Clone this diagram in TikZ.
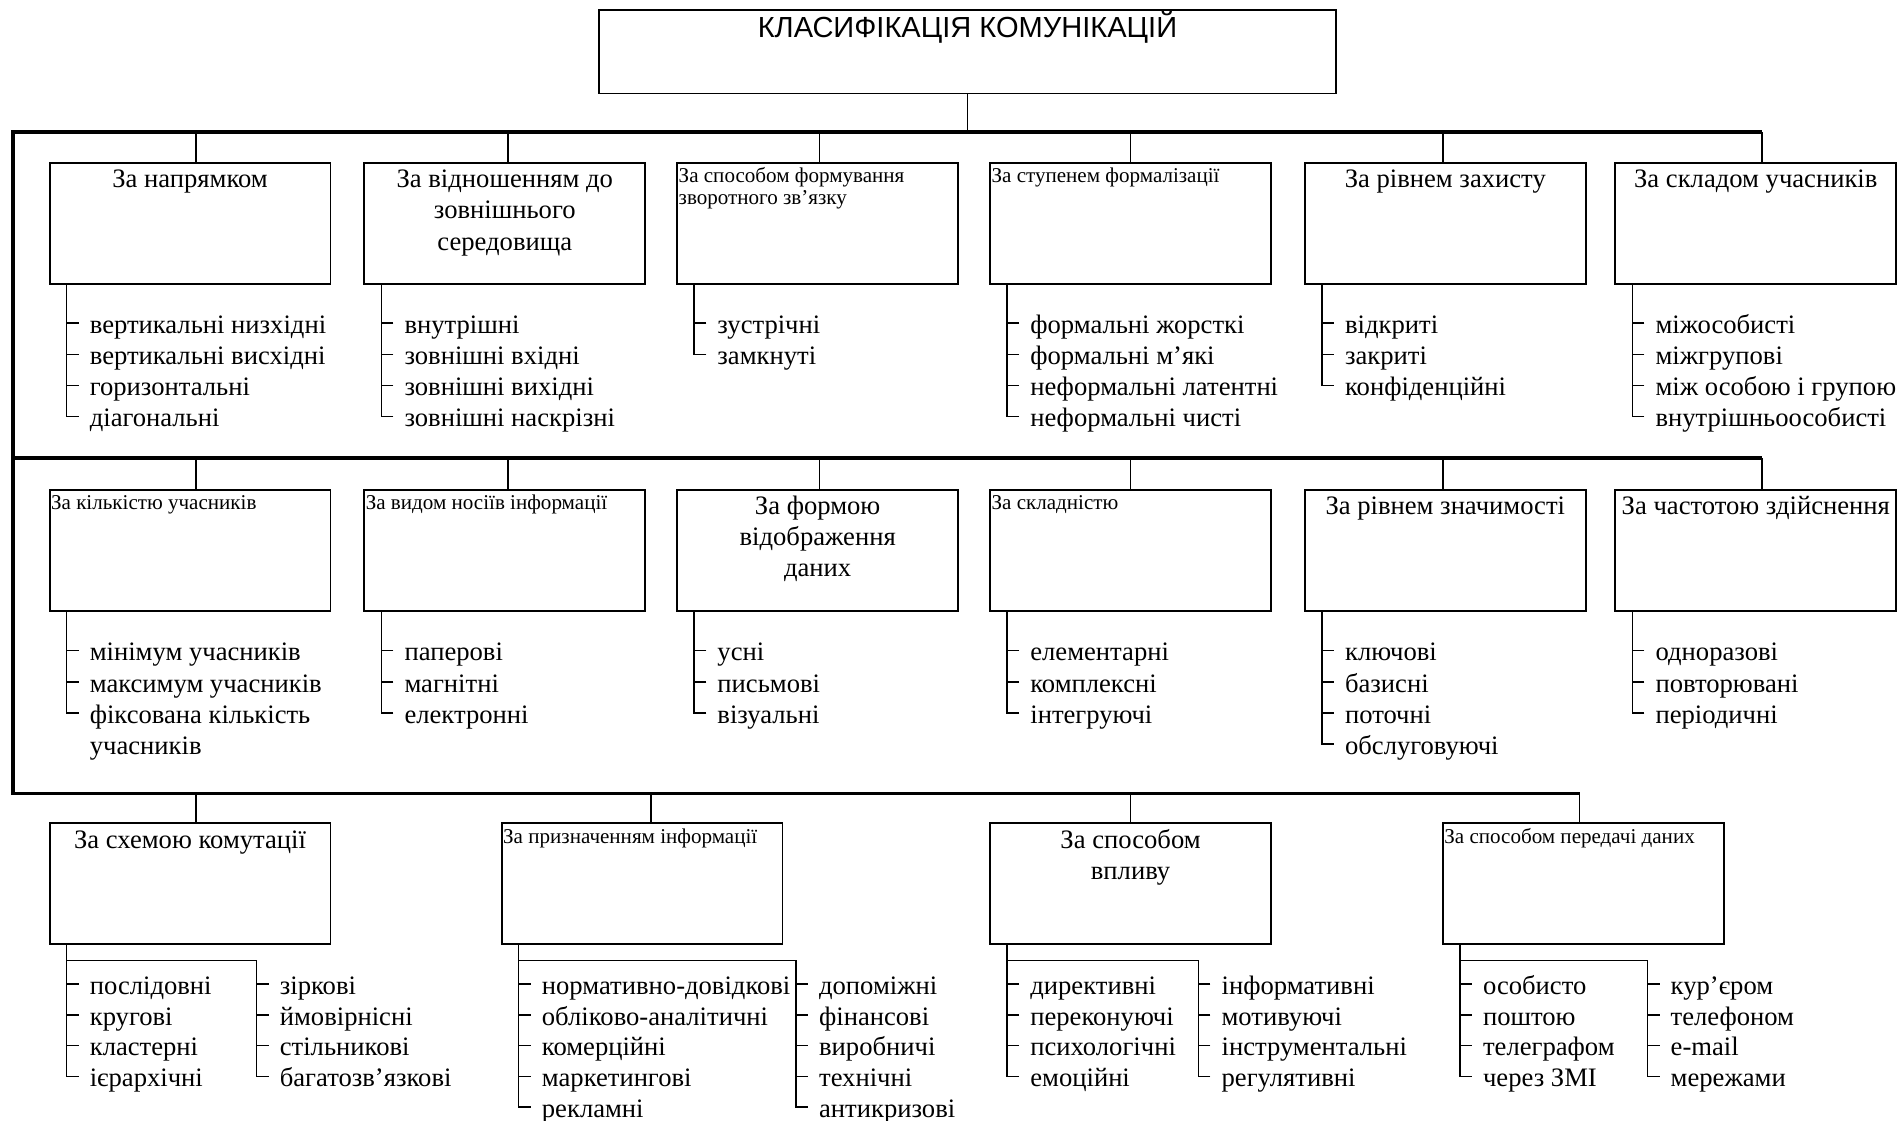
\documentclass[tikz,border=0pt]{standalone}
\usepackage{fontspec}
\setmainfont{Liberation Serif}
\newfontfamily\titlefont{Liberation Sans}
\newcommand\itcol[5]{%
  \foreach \t [count=\k] in {#5}{%
    \node[itm] (#1-\k) at ({#2+19},{#3+8.5+#4*(\k-1)}) {\t};
    \draw[ln] ([xshift=-9pt,yshift=8.5pt]#1-\k.base west) -- ++(-10pt,0);
  }}
\begin{document}
\begin{tikzpicture}[x=1pt,y=-1pt,
  box/.style={draw,line width=1.5pt,minimum width=232pt,minimum height=100pt,inner sep=0pt,outer sep=0pt,anchor=north west},
  ln/.style={line width=1.3pt},
  bus/.style={line width=3pt,line join=miter},
  itm/.style={font=\fontsize{22}{25.7}\selectfont,inner sep=0pt,anchor=base west},
  hb/.style={font=\fontsize{22}{25.7}\selectfont,inner sep=0pt,anchor=base},
  hs/.style={font=\fontsize{17.4}{17.9}\selectfont,inner sep=0pt,anchor=base west},
]
\fill[white] (0,0) rectangle (1568,926);
\useasboundingbox (0,0) rectangle (1568,926);

% title
\node[box,minimum width=609pt,minimum height=69pt] (title) at (494.7,8.3) {};
\node[font=\titlefont\fontsize{24}{28}\selectfont,inner sep=0pt,anchor=base] (titletext) at ([yshift=-23pt]title.north) {КЛАСИФІКАЦІЯ КОМУНІКАЦІЙ};

% buses
\coordinate (bus1L) at (11,109);   \coordinate (bus1R) at (1456,109);
\coordinate (bus2L) at (11,378.6); \coordinate (bus2R) at (1456,378.6);
\coordinate (bus3L) at (11,655.4); \coordinate (bus3R) at (1305,655.4);
\draw[bus] (bus1R) -- (bus1L) -- (bus3L) -- (bus3R);
\draw[bus] (bus2L) -- (bus2R);
\draw[ln] (title.south) -- (title.south |- bus1L);

% ---------- row 1 ----------
\node[box] (b11) at (41,134.5) {};
\node[box] (b12) at (301,134.5) {};
\node[box] (b13) at (559.5,134.5) {};
\node[box] (b14) at (818,134.5) {};
\node[box] (b15) at (1078,134.5) {};
\node[box] (b16) at (1334.5,134.5) {};
\foreach \b/\d in {b11/5,b12/2.5,b13/1.5,b14/0,b15/-2,b16/5}
  \draw[ln] ([xshift=\d pt]\b.north) -- ([xshift=\d pt]\b.north |- bus1L);

\node[hb] (h11) at ([yshift=-20.7pt]b11.north) {За напрямком};
\node[hb] (h12) at ([yshift=-20.7pt]b12.north) {За відношенням до};
\node[hb] (h12b) at ([yshift=-46.4pt]b12.north) {зовнішнього};
\node[hb] (h12c) at ([yshift=-72.1pt]b12.north) {середовища};
\node[hs] (h13) at ([xshift=1pt,yshift=-16.6pt]b13.north west) {За способом формування};
\node[hs] (h13b) at ([xshift=1pt,yshift=-34.5pt]b13.north west) {зворотного зв’язку};
\node[hs] (h14) at ([xshift=1pt,yshift=-16.6pt]b14.north west) {За ступенем формалізації};
\node[hb] (h15) at ([yshift=-20.7pt]b15.north) {За рівнем захисту};
\node[hb] (h16) at ([yshift=-20.7pt]b16.north) {За складом учасників};

\itcol{i11}{55}{267}{25.7}{вертикальні низхідні,вертикальні висхідні,горизонтальні,діагональні}
\itcol{i12}{315}{267}{25.7}{внутрішні,зовнішні вхідні,зовнішні вихідні,зовнішні наскрізні}
\itcol{i13}{573.5}{267}{25.7}{зустрічні,замкнуті}
\itcol{i14}{832}{267}{25.7}{формальні жорсткі,формальні м’які,неформальні латентні,неформальні чисті}
\itcol{i15}{1092}{267}{25.7}{відкриті,закриті,конфіденційні}
\itcol{i16}{1348.5}{267}{25.7}{міжособисті,міжгрупові,між особою і групою,внутрішньоособисті}
\draw[ln] ([xshift=14pt]b11.south west) |- ([xshift=-9pt,yshift=8.5pt]i11-4.base west);
\draw[ln] ([xshift=14pt]b12.south west) |- ([xshift=-9pt,yshift=8.5pt]i12-4.base west);
\draw[ln] ([xshift=14pt]b13.south west) |- ([xshift=-9pt,yshift=8.5pt]i13-2.base west);
\draw[ln] ([xshift=14pt]b14.south west) |- ([xshift=-9pt,yshift=8.5pt]i14-4.base west);
\draw[ln] ([xshift=14pt]b15.south west) |- ([xshift=-9pt,yshift=8.5pt]i15-3.base west);
\draw[ln] ([xshift=14pt]b16.south west) |- ([xshift=-9pt,yshift=8.5pt]i16-4.base west);

% ---------- row 2 ----------
\node[box] (b21) at (41,404.5) {};
\node[box] (b22) at (301,404.5) {};
\node[box] (b23) at (559.5,404.5) {};
\node[box] (b24) at (818,404.5) {};
\node[box] (b25) at (1078,404.5) {};
\node[box] (b26) at (1334.5,404.5) {};
\foreach \b/\d in {b21/5,b22/2.5,b23/1.5,b24/0,b25/-2,b26/5}
  \draw[ln] ([xshift=\d pt]\b.north) -- ([xshift=\d pt]\b.north |- bus2L);

\node[hs] (h21) at ([xshift=1pt,yshift=-16.6pt]b21.north west) {За кількістю учасників};
\node[hs] (h22) at ([xshift=1pt,yshift=-16.6pt]b22.north west) {За видом носіїв інформації};
\node[hb] (h23) at ([yshift=-20.7pt]b23.north) {За формою};
\node[hb] (h23b) at ([yshift=-46.4pt]b23.north) {відображення};
\node[hb] (h23c) at ([yshift=-72.1pt]b23.north) {даних};
\node[hs] (h24) at ([xshift=1pt,yshift=-16.6pt]b24.north west) {За складністю};
\node[hb] (h25) at ([yshift=-20.7pt]b25.north) {За рівнем значимості};
\node[hb] (h26) at ([yshift=-20.7pt]b26.north) {За частотою здійснення};

\itcol{i21}{55}{537.5}{25.7}{мінімум учасників,максимум учасників,фіксована кількість}
\node[itm] (i21-3b) at ([yshift=-25.7pt]i21-3.base west) {учасників};
\itcol{i22}{315}{537.5}{25.7}{паперові,магнітні,електронні}
\itcol{i23}{573.5}{537.5}{25.7}{усні,письмові,візуальні}
\itcol{i24}{832}{537.5}{25.7}{елементарні,комплексні,інтегруючі}
\itcol{i25}{1092}{537.5}{25.7}{ключові,базисні,поточні,обслуговуючі}
\itcol{i26}{1348.5}{537.5}{25.7}{одноразові,повторювані,періодичні}
\draw[ln] ([xshift=14pt]b21.south west) |- ([xshift=-9pt,yshift=8.5pt]i21-3.base west);
\draw[ln] ([xshift=14pt]b22.south west) |- ([xshift=-9pt,yshift=8.5pt]i22-3.base west);
\draw[ln] ([xshift=14pt]b23.south west) |- ([xshift=-9pt,yshift=8.5pt]i23-3.base west);
\draw[ln] ([xshift=14pt]b24.south west) |- ([xshift=-9pt,yshift=8.5pt]i24-3.base west);
\draw[ln] ([xshift=14pt]b25.south west) |- ([xshift=-9pt,yshift=8.5pt]i25-4.base west);
\draw[ln] ([xshift=14pt]b26.south west) |- ([xshift=-9pt,yshift=8.5pt]i26-3.base west);

% ---------- row 3 ----------
\node[box] (b31) at (41,680) {};
\node[box] (b32) at (414.5,680) {};
\node[box] (b33) at (818,680) {};
\node[box] (b34) at (1192,680) {};
\foreach \b/\d in {b31/5,b32/7.5,b33/0,b34/-3}
  \draw[ln] ([xshift=\d pt]\b.north) -- ([xshift=\d pt]\b.north |- bus3L);

\node[hb] (h31) at ([yshift=-20.7pt]b31.north) {За схемою комутації};
\node[hs] (h32) at ([xshift=1pt,yshift=-16.6pt]b32.north west) {За призначенням інформації};
\node[hb] (h33) at ([yshift=-20.7pt]b33.north) {За способом};
\node[hb] (h33b) at ([yshift=-46.4pt]b33.north) {впливу};
\node[hs] (h34) at ([xshift=1pt,yshift=-16.6pt]b34.north west) {За способом передачі даних};

\itcol{i31a}{55}{813}{25.4}{послідовні,кругові,кластерні,ієрархічні}
\itcol{i31b}{212}{813}{25.4}{зіркові,ймовірнісні,стільникові,багатозв’язкові}
\itcol{i32a}{428.5}{813}{25.4}{нормативно-довідкові,обліково-аналітичні,комерційні,маркетингові,рекламні}
\itcol{i32b}{657.5}{813}{25.4}{допоміжні,фінансові,виробничі,технічні,антикризові}
\itcol{i33a}{832}{813}{25.4}{директивні,переконуючі,психологічні,емоційні}
\itcol{i33b}{990}{813}{25.4}{інформативні,мотивуючі,інструментальні,регулятивні}
\itcol{i34a}{1206}{813}{25.4}{особисто,поштою,телеграфом,через ЗМІ}
\itcol{i34b}{1361}{813}{25.4}{кур’єром,телефоном,e-mail,мережами}

\foreach \b/\a/\c/\na/\nc in {b31/i31a/i31b/4/4,b32/i32a/i32b/5/5,b33/i33a/i33b/4/4,b34/i34a/i34b/4/4}{
  \draw[ln] ([xshift=14pt]\b.south west) |- ([xshift=-9pt,yshift=8.5pt]\a-\na.base west);
  \coordinate (\b br) at ([xshift=14pt,yshift=-13.5pt]\b.south west);
  \draw[ln] (\b br) -| ([xshift=-19pt,yshift=8.5pt]\c-1.base west) |- ([xshift=-9pt,yshift=8.5pt]\c-\nc.base west);
}
\end{tikzpicture}
\end{document}
